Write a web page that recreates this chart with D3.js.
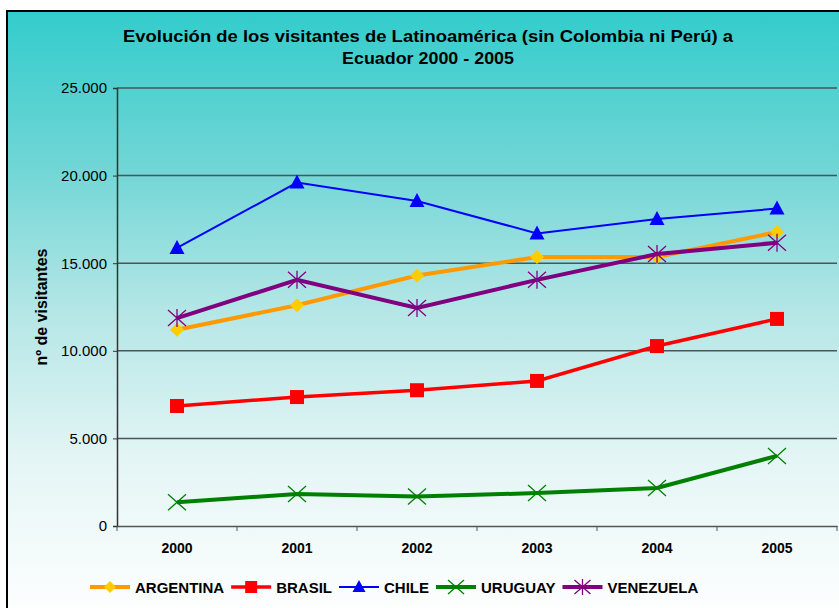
<!DOCTYPE html>
<html>
<head>
<meta charset="utf-8">
<script src="https://cdn.jsdelivr.net/npm/d3@7"></script>
<style>
  body { margin: 0; background: #fff; }
  text { font-family: "Liberation Sans", Arial, sans-serif; }
</style>
</head>
<body>
<div id="chart"></div>
<script>
const years = ['2000', '2001', '2002', '2003', '2004', '2005']
const argentina = [11200, 12600, 14300, 15350, 15350, 16780]
const brasil = [6850, 7360, 7750, 8280, 10270, 11820]
const chile = [15870, 19600, 18550, 16700, 17520, 18120]
const uruguay = [1350, 1830, 1680, 1880, 2170, 4000]
const venezuela = [11870, 14050, 12440, 14050, 15520, 16170]
const yTicks = [0, 5000, 10000, 15000, 20000, 25000]

const series = [
  { name: 'ARGENTINA', values: argentina, color: '#FF9900', width: 4, marker: 'diamond', fill: '#FFCC00' },
  { name: 'BRASIL', values: brasil, color: '#FF0000', width: 3.5, marker: 'square', fill: '#FF0000' },
  { name: 'CHILE', values: chile, color: '#0000FF', width: 2, marker: 'triangle', fill: '#0000FF' },
  { name: 'URUGUAY', values: uruguay, color: '#008000', width: 4, marker: 'x', fill: '#008000' },
  { name: 'VENEZUELA', values: venezuela, color: '#800080', width: 4, marker: 'star', fill: '#800080' }
]

const width = 839
const height = 608

const svg = d3.select('#chart')
  .append('svg')
  .attr('width', width)
  .attr('height', height)

// background gradient, teal at the top fading to white
const grad = svg.append('defs')
  .append('linearGradient')
  .attr('id', 'bg')
  .attr('gradientUnits', 'userSpaceOnUse')
  .attr('x1', 0).attr('y1', 11).attr('x2', 0).attr('y2', 608)
grad.append('stop').attr('offset', '0%').attr('stop-color', '#33CCCC')
grad.append('stop').attr('offset', '25%').attr('stop-color', '#6ED5D5')
grad.append('stop').attr('offset', '50%').attr('stop-color', '#B4E6E6')
grad.append('stop').attr('offset', '75%').attr('stop-color', '#E4F5F5')
grad.append('stop').attr('offset', '100%').attr('stop-color', '#FDFEFE')

svg.append('rect')
  .attr('x', 7).attr('y', 11)
  .attr('width', width + 10).attr('height', height + 10)
  .attr('fill', 'url(#bg)')
  .attr('stroke', '#000')
  .attr('stroke-width', 2)

const x = d3.scaleBand().domain(years).range([117, 837])
const y = d3.scaleLinear().domain([0, 25000]).range([526, 88])

// gridlines
svg.append('g')
  .selectAll('line')
  .data(yTicks.slice(1))
  .enter()
  .append('line')
  .attr('x1', 117).attr('x2', 837)
  .attr('y1', d => y(d)).attr('y2', d => y(d))
  .attr('stroke', '#4a5555')
  .attr('stroke-width', 1.5)

const fmt = d3.formatLocale({ decimal: ',', thousands: '.', grouping: [3], currency: ['', ''] }).format(',')

const yAxis = svg.append('g')
  .attr('transform', 'translate(117,0)')
  .call(d3.axisLeft(y).tickValues(yTicks).tickFormat(fmt).tickSize(4).tickPadding(6))
yAxis.select('.domain').attr('stroke', '#333').attr('stroke-width', 1.5)
yAxis.selectAll('.tick line').attr('stroke', '#333')
yAxis.selectAll('text').attr('font-size', 15).attr('fill', '#000')

const xAxis = svg.append('g')
  .attr('transform', 'translate(0,526)')
  .call(d3.axisBottom(x).tickSize(0).tickPadding(23))
xAxis.select('.domain').attr('stroke', '#555').attr('stroke-width', 1.5)
xAxis.selectAll('text').attr('font-size', 14).attr('font-weight', 'bold').attr('fill', '#000')
  .attr('dy', '0.3em')
xAxis.append('g')
  .selectAll('line')
  .data(years.concat(['end']))
  .enter()
  .append('line')
  .attr('x1', (d, i) => 117 + i * x.bandwidth())
  .attr('x2', (d, i) => 117 + i * x.bandwidth())
  .attr('y1', 0).attr('y2', 5)
  .attr('stroke', '#555')

// markers
const drawMarker = (g, s, cx, cy, r) => {
  if (s.marker === 'diamond') {
    g.append('path').attr('d', `M${cx},${cy - r}L${cx + r},${cy}L${cx},${cy + r}L${cx - r},${cy}Z`)
      .attr('fill', s.fill)
  } else if (s.marker === 'square') {
    g.append('rect').attr('x', cx - r).attr('y', cy - r).attr('width', 2 * r).attr('height', 2 * r)
      .attr('fill', s.fill)
  } else if (s.marker === 'triangle') {
    g.append('path').attr('d', `M${cx},${cy - r - 1}L${cx + r + 0.5},${cy + r - 1}L${cx - r - 0.5},${cy + r - 1}Z`)
      .attr('fill', s.fill)
  } else if (s.marker === 'x') {
    const a = r + 2
    g.append('path').attr('d', `M${cx - a},${cy - a + 1}L${cx + a},${cy + a - 1}M${cx - a},${cy + a - 1}L${cx + a},${cy - a + 1}`)
      .attr('stroke', s.fill).attr('stroke-width', 1.3).attr('fill', 'none')
  } else {
    const a = r + 2
    g.append('path').attr('d', `M${cx - a},${cy - a + 1}L${cx + a},${cy + a - 1}M${cx - a},${cy + a - 1}L${cx + a},${cy - a + 1}M${cx},${cy - a}L${cx},${cy + a}`)
      .attr('stroke', s.fill).attr('stroke-width', 1.3).attr('fill', 'none')
  }
}

const line = d3.line()
  .x((d, i) => x(years[i]) + x.bandwidth() / 2)
  .y(d => y(d))

series.forEach(s => {
  const g = svg.append('g')
  g.append('path')
    .datum(s.values)
    .attr('d', line)
    .attr('fill', 'none')
    .attr('stroke', s.color)
    .attr('stroke-width', s.width)
  s.values.forEach((v, i) => {
    drawMarker(g, s, x(years[i]) + x.bandwidth() / 2, y(v), 7)
  })
})

// title
svg.append('text')
  .attr('x', 428).attr('y', 42)
  .attr('text-anchor', 'middle')
  .attr('font-size', 17).attr('font-weight', 'bold')
  .attr('textLength', 610).attr('lengthAdjust', 'spacingAndGlyphs')
  .text('Evolución de los visitantes de Latinoamérica (sin Colombia ni Perú) a')
svg.append('text')
  .attr('x', 428).attr('y', 64)
  .attr('text-anchor', 'middle')
  .attr('font-size', 17).attr('font-weight', 'bold')
  .attr('textLength', 172).attr('lengthAdjust', 'spacingAndGlyphs')
  .text('Ecuador 2000 - 2005')

// y label
svg.append('text')
  .attr('transform', 'translate(47,307) rotate(-90)')
  .attr('text-anchor', 'middle')
  .attr('font-size', 16).attr('font-weight', 'bold')
  .text('nº de visitantes')

// legend, items placed one after another
const legend = svg.append('g').attr('transform', 'translate(0,587)')
let cursor = 90
legend.selectAll('g')
  .data(series)
  .enter()
  .append('g')
  .each(function (s) {
    const g = d3.select(this)
    g.append('line').attr('x1', cursor).attr('x2', cursor + 40).attr('y1', 0).attr('y2', 0)
      .attr('stroke', s.color).attr('stroke-width', s.width)
    drawMarker(g, s, cursor + 20, 0, 6)
    const t = g.append('text')
      .attr('x', cursor + 45).attr('y', 5.5)
      .attr('font-size', 15).attr('font-weight', 'bold')
      .text(s.name)
    cursor += 45 + t.node().getComputedTextLength() + 7
  })
</script>
</body>
</html>
